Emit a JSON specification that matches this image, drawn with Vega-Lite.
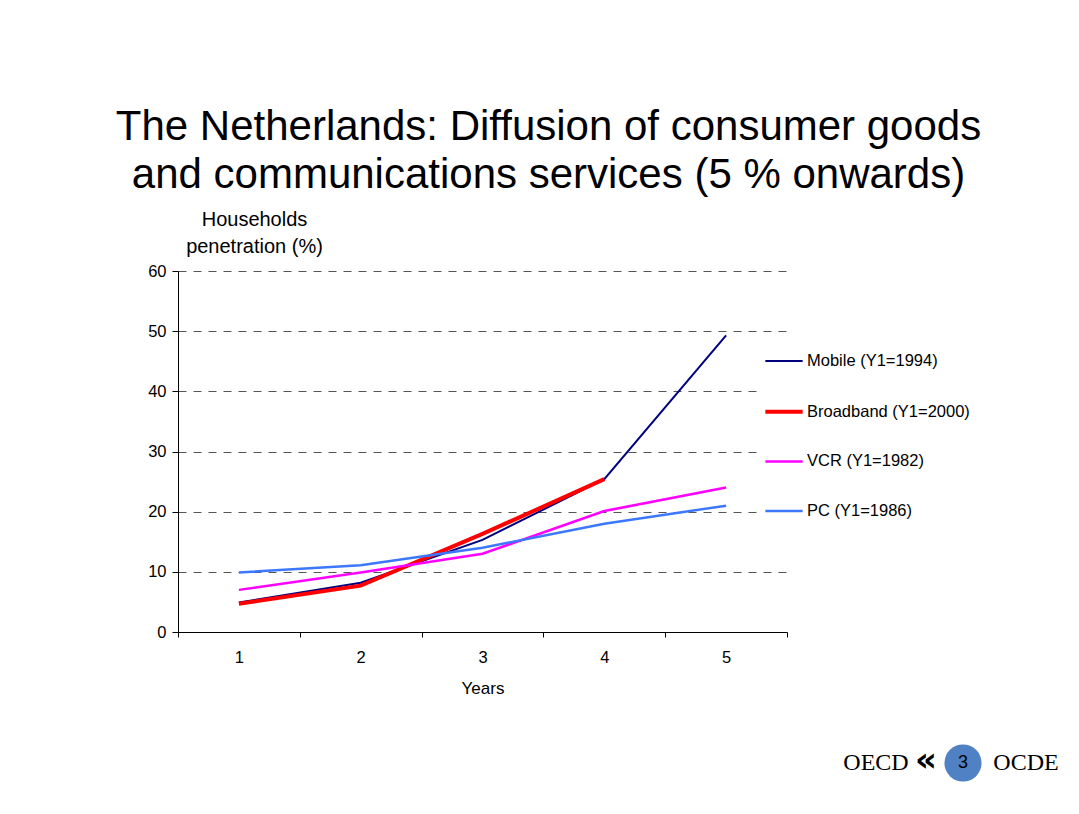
{
  "$schema": "https://vega.github.io/schema/vega-lite/v6.json",
  "autosize": "none",
  "padding": {"left": 178, "top": 271, "right": 901, "bottom": 543},
  "background": "white",
  "config": {
    "font": "Liberation Sans",
    "view": {"stroke": null},
    "axis": {"labelColor": "black", "titleColor": "black", "titleFontWeight": "normal", "domainColor": "black", "tickColor": "black", "labelFont": "Liberation Sans", "titleFont": "Liberation Sans"}
  },
  "bounds": "flush",
  "spacing": 111,
  "vconcat": [
    {
      "width": 609,
      "height": 361,
      "title": {
        "text": ["The Netherlands: Diffusion of consumer goods", "and communications services (5 % onwards)"],
        "fontSize": 42,
        "fontWeight": "normal",
        "font": "Liberation Sans",
        "color": "black",
        "lineHeight": 48,
        "anchor": "middle",
        "frame": "group",
        "dx": 66,
        "offset": 12
      },
      "data": {
        "values": [
          {"series": "Mobile (Y1=1994)", "year": 1, "pct": 4.9},
          {"series": "Mobile (Y1=1994)", "year": 2, "pct": 8.2},
          {"series": "Mobile (Y1=1994)", "year": 3, "pct": 15.3},
          {"series": "Mobile (Y1=1994)", "year": 4, "pct": 25.4},
          {"series": "Mobile (Y1=1994)", "year": 5, "pct": 49.3},
          {"series": "Broadband (Y1=2000)", "year": 1, "pct": 4.7},
          {"series": "Broadband (Y1=2000)", "year": 2, "pct": 7.7},
          {"series": "Broadband (Y1=2000)", "year": 3, "pct": 16.3},
          {"series": "Broadband (Y1=2000)", "year": 4, "pct": 25.4},
          {"series": "VCR (Y1=1982)", "year": 1, "pct": 7.0},
          {"series": "VCR (Y1=1982)", "year": 2, "pct": 9.9},
          {"series": "VCR (Y1=1982)", "year": 3, "pct": 13.0},
          {"series": "VCR (Y1=1982)", "year": 4, "pct": 20.1},
          {"series": "VCR (Y1=1982)", "year": 5, "pct": 24.0},
          {"series": "PC (Y1=1986)", "year": 1, "pct": 9.9},
          {"series": "PC (Y1=1986)", "year": 2, "pct": 11.1},
          {"series": "PC (Y1=1986)", "year": 3, "pct": 14.0},
          {"series": "PC (Y1=1986)", "year": 4, "pct": 18.0},
          {"series": "PC (Y1=1986)", "year": 5, "pct": 21.0}
        ]
      },
      "mark": {"type": "line", "strokeJoin": "miter"},
      "encoding": {
        "x": {
          "field": "year",
          "type": "quantitative",
          "scale": {"domain": [0.5, 5.5], "nice": false, "zero": false},
          "axis": {
            "values": [0.5, 1, 1.5, 2, 2.5, 3, 3.5, 4, 4.5, 5, 5.5],
            "labelExpr": "datum.value % 1 == 0 ? format(datum.value, 'd') : ''",
            "tickOpacity": {"condition": {"test": "datum.value % 1 == 0", "value": 0}, "value": 1},
            "grid": false,
            "tickSize": 5,
            "labelFontSize": 16.5,
            "labelPadding": 12,
            "labelFlush": false,
            "labelOverlap": false,
            "title": "Years",
            "titleFontSize": 17,
            "titlePadding": 15
          }
        },
        "y": {
          "field": "pct",
          "type": "quantitative",
          "scale": {"domain": [0, 60], "nice": false},
          "axis": {
            "values": [0, 10, 20, 30, 40, 50, 60],
            "grid": true,
            "gridDash": [8, 7],
            "gridColor": "#555555",
            "gridWidth": 1,
            "tickSize": 6,
            "labelFontSize": 16.5,
            "labelPadding": 6,
            "title": ["Households", "penetration (%)"],
            "titleFontSize": 20,
            "titleAngle": 0,
            "titleAlign": "center",
            "titleBaseline": "alphabetic",
            "titleX": 76,
            "titleY": -46,
            "titleLineHeight": 27
          }
        },
        "color": {
          "field": "series",
          "type": "nominal",
          "scale": {
            "domain": ["Mobile (Y1=1994)", "Broadband (Y1=2000)", "VCR (Y1=1982)", "PC (Y1=1986)"],
            "range": ["#000080", "#ff0000", "#ff00ff", "#3c78ff"]
          },
          "legend": {
            "orient": "none",
            "legendX": 580,
            "legendY": 65,
            "title": null,
            "symbolType": "stroke",
            "symbolSize": 1390,
            "labelFontSize": 16.5,
            "labelColor": "black",
            "labelOffset": 2,
            "labelLimit": 300,
            "rowPadding": 20.7,
            "padding": 5,
            "fillColor": "white"
          }
        },
        "strokeWidth": {
          "field": "series",
          "type": "nominal",
          "scale": {
            "type": "ordinal",
            "domain": ["Mobile (Y1=1994)", "Broadband (Y1=2000)", "VCR (Y1=1982)", "PC (Y1=1986)"],
            "range": [2, 4, 2.5, 2.5]
          },
          "legend": {
            "orient": "none",
            "legendX": 580,
            "legendY": 65,
            "title": null,
            "symbolType": "stroke",
            "symbolSize": 1390,
            "labelFontSize": 16.5,
            "labelColor": "black",
            "labelOffset": 2,
            "labelLimit": 300,
            "rowPadding": 20.7,
            "padding": 5,
            "fillColor": "white"
          }
        }
      }
    },
    {
      "width": 873,
      "height": 40,
      "data": {"values": [{"t": "OECD"}, {"t": "«"}, {"t": "3"}, {"t": "OCDE"}]},
      "encoding": {
        "x": {
          "field": "t",
          "type": "nominal",
          "scale": {"type": "band", "domain": ["OECD", "«", "3", "OCDE"], "paddingInner": 0, "paddingOuter": 0, "range": [673, 873]},
          "axis": null
        }
      },
      "layer": [
        {
          "transform": [{"filter": "datum.t == '3'"}],
          "mark": {"type": "point", "shape": "circle", "filled": true, "size": 1380, "color": "#4f81c4", "opacity": 1, "xOffset": -13}
        },
        {
          "transform": [{"filter": "datum.t == '3'"}],
          "mark": {"type": "text", "font": "Liberation Sans", "fontSize": 18, "color": "black", "baseline": "middle", "xOffset": -13},
          "encoding": {"text": {"field": "t"}}
        },
        {
          "transform": [{"filter": "datum.t == 'OECD' || datum.t == 'OCDE'"}],
          "mark": {"type": "text", "font": "Liberation Serif", "fontSize": 24, "color": "black", "baseline": "middle"},
          "encoding": {"text": {"field": "t"}}
        },
        {
          "transform": [{"filter": "datum.t == '«'"}],
          "mark": {"type": "text", "font": "DejaVu Sans", "fontWeight": "bold", "fontSize": 34, "color": "black", "baseline": "middle", "dy": -2},
          "encoding": {"text": {"field": "t"}}
        }
      ]
    }
  ]
}
